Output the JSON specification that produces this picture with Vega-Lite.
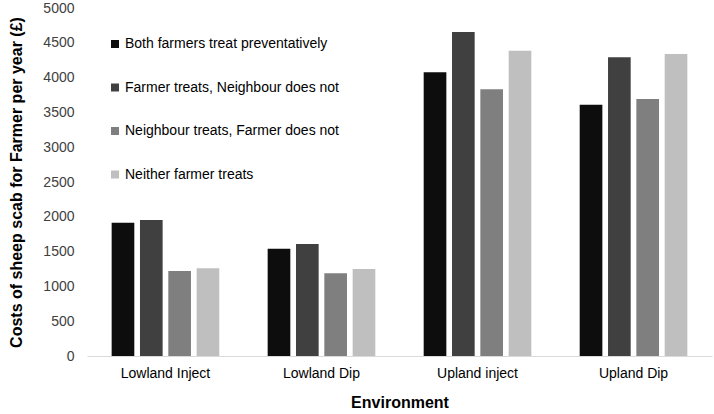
{
  "$schema": "https://vega.github.io/schema/vega-lite/v6.json",
  "width": 625,
  "height": 348,
  "autosize": {"type": "none"},
  "padding": {"left": 87, "top": 8, "right": 2, "bottom": 58},
  "background": "white",
  "config": {
    "font": "Liberation Sans",
    "view": {"stroke": null}
  },
  "data": {
    "values": [
      {"env": "Lowland Inject", "scenario": "Both farmers treat preventatively", "cost": 1915},
      {"env": "Lowland Inject", "scenario": "Farmer treats, Neighbour does not", "cost": 1954},
      {"env": "Lowland Inject", "scenario": "Neighbour treats, Farmer does not", "cost": 1221},
      {"env": "Lowland Inject", "scenario": "Neither farmer treats", "cost": 1260},
      {"env": "Lowland Dip", "scenario": "Both farmers treat preventatively", "cost": 1542},
      {"env": "Lowland Dip", "scenario": "Farmer treats, Neighbour does not", "cost": 1609},
      {"env": "Lowland Dip", "scenario": "Neighbour treats, Farmer does not", "cost": 1188},
      {"env": "Lowland Dip", "scenario": "Neither farmer treats", "cost": 1250},
      {"env": "Upland inject", "scenario": "Both farmers treat preventatively", "cost": 4076},
      {"env": "Upland inject", "scenario": "Farmer treats, Neighbour does not", "cost": 4655},
      {"env": "Upland inject", "scenario": "Neighbour treats, Farmer does not", "cost": 3832},
      {"env": "Upland inject", "scenario": "Neither farmer treats", "cost": 4386},
      {"env": "Upland Dip", "scenario": "Both farmers treat preventatively", "cost": 3611},
      {"env": "Upland Dip", "scenario": "Farmer treats, Neighbour does not", "cost": 4292},
      {"env": "Upland Dip", "scenario": "Neighbour treats, Farmer does not", "cost": 3693},
      {"env": "Upland Dip", "scenario": "Neither farmer treats", "cost": 4339}
    ]
  },
  "mark": {"type": "bar"},
  "encoding": {
    "x": {
      "field": "env",
      "type": "nominal",
      "sort": ["Lowland Inject", "Lowland Dip", "Upland inject", "Upland Dip"],
      "scale": {"paddingInner": 0.31, "paddingOuter": 0.158},
      "axis": {
        "title": "Environment",
        "titleFont": "Liberation Sans",
        "titleFontSize": 16,
        "titleFontWeight": "bold",
        "titleColor": "#000000",
        "titlePadding": 14,
        "labelAngle": 0,
        "labelFontSize": 14,
        "labelColor": "#000000",
        "labelPadding": 10,
        "ticks": false,
        "domainColor": "#d9d9d9",
        "domainWidth": 1
      }
    },
    "xOffset": {
      "field": "scenario",
      "type": "nominal",
      "sort": ["Both farmers treat preventatively", "Farmer treats, Neighbour does not", "Neighbour treats, Farmer does not", "Neither farmer treats"],
      "scale": {"paddingInner": 0.2, "paddingOuter": 0}
    },
    "y": {
      "field": "cost",
      "type": "quantitative",
      "scale": {"domain": [0, 5000], "nice": false},
      "axis": {
        "title": "Costs of sheep scab for  Farmer per year (£)",
        "titleFont": "Liberation Sans",
        "titleFontSize": 16,
        "titleFontWeight": "bold",
        "titleColor": "#000000",
        "titlePadding": 18,
        "values": [0, 500, 1000, 1500, 2000, 2500, 3000, 3500, 4000, 4500, 5000],
        "format": "d",
        "labelFontSize": 14,
        "labelColor": "#404040",
        "labelPadding": 13,
        "ticks": false,
        "domain": false,
        "grid": false
      }
    },
    "color": {
      "field": "scenario",
      "type": "nominal",
      "sort": ["Both farmers treat preventatively", "Farmer treats, Neighbour does not", "Neighbour treats, Farmer does not", "Neither farmer treats"],
      "scale": {
        "domain": ["Both farmers treat preventatively", "Farmer treats, Neighbour does not", "Neighbour treats, Farmer does not", "Neither farmer treats"],
        "range": ["#0d0d0d", "#404040", "#7f7f7f", "#bfbfbf"]
      },
      "legend": {
        "title": null,
        "orient": "none",
        "legendX": 21,
        "legendY": 29,
        "symbolType": "square",
        "symbolSize": 64,
        "symbolStrokeWidth": 0,
        "labelFontSize": 14,
        "labelColor": "#000000",
        "labelOffset": 3,
        "rowPadding": 29.5,
        "labelLimit": 400
      }
    }
  }
}
